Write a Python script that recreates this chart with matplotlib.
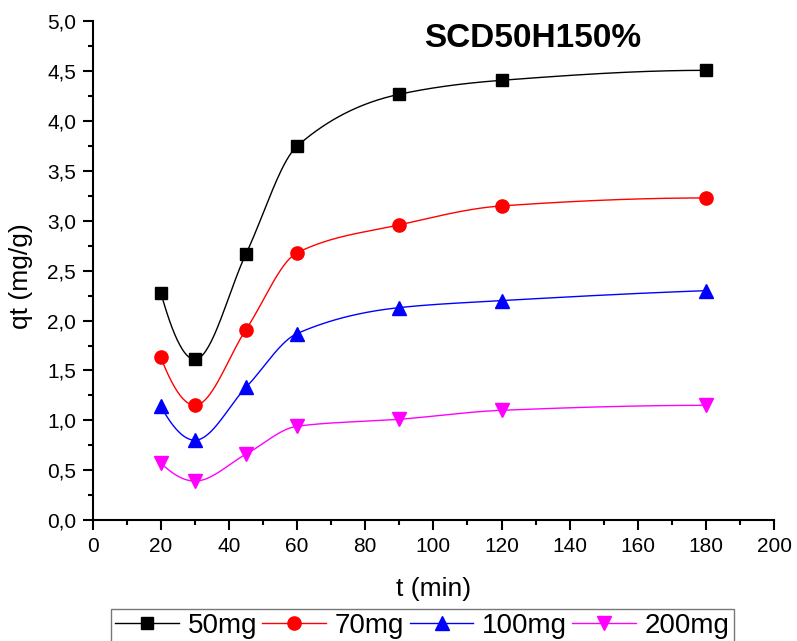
import numpy as np
import matplotlib
matplotlib.use("Agg")
from matplotlib import pyplot as plt
from matplotlib.ticker import MultipleLocator, FuncFormatter

plt.rcParams['font.family'] = ['Liberation Sans', 'DejaVu Sans']

# data
t_min = [20, 30, 45, 60, 90, 120, 180]
qt_50mg = [2.28, 1.61, 2.67, 3.75, 4.27, 4.41, 4.51]
qt_70mg = [1.63, 1.15, 1.91, 2.68, 2.96, 3.15, 3.23]
qt_100mg = [1.14, 0.80, 1.33, 1.87, 2.13, 2.20, 2.30]
qt_200mg = [0.57, 0.39, 0.66, 0.94, 1.01, 1.10, 1.15]
labels = ['50mg', '70mg', '100mg', '200mg']
title = 'SCD50H150%'


def pchip(x, y, n=400):
    # monotone cubic (Fritsch-Carlson) - no overshoot between points
    x = np.asarray(x, float)
    y = np.asarray(y, float)
    h = np.diff(x)
    d = np.diff(y) / h
    k = len(x)
    m = np.zeros(k)
    for i in range(1, k - 1):
        if d[i - 1] * d[i] > 0:
            w1 = 2 * h[i] + h[i - 1]
            w2 = h[i] + 2 * h[i - 1]
            m[i] = (w1 + w2) / (w1 / d[i - 1] + w2 / d[i])
    # end slopes
    m[0] = ((2 * h[0] + h[1]) * d[0] - h[0] * d[1]) / (h[0] + h[1])
    if np.sign(m[0]) != np.sign(d[0]):
        m[0] = 0
    elif np.sign(d[0]) != np.sign(d[1]) and abs(m[0]) > abs(3 * d[0]):
        m[0] = 3 * d[0]
    m[-1] = ((2 * h[-1] + h[-2]) * d[-1] - h[-1] * d[-2]) / (h[-1] + h[-2])
    if np.sign(m[-1]) != np.sign(d[-1]):
        m[-1] = 0
    elif np.sign(d[-1]) != np.sign(d[-2]) and abs(m[-1]) > abs(3 * d[-1]):
        m[-1] = 3 * d[-1]
    xs = np.linspace(x[0], x[-1], n)
    idx = np.clip(np.searchsorted(x, xs) - 1, 0, k - 2)
    hh = h[idx]
    s = (xs - x[idx]) / hh
    h00 = 2 * s**3 - 3 * s**2 + 1
    h10 = s**3 - 2 * s**2 + s
    h01 = -2 * s**3 + 3 * s**2
    h11 = s**3 - s**2
    ys = h00 * y[idx] + h10 * hh * m[idx] + h01 * y[idx + 1] + h11 * hh * m[idx + 1]
    return xs, ys


fig = plt.figure(figsize=(7.97, 6.41), dpi=100)
ax = fig.add_axes([0.1163, 0.1888, 0.855, 0.7777])

series = [qt_50mg, qt_70mg, qt_100mg, qt_200mg]
colors = ['black', '#FF0000', '#0000FF', '#FF00FF']
markers = ['s', 'o', '^', 'v']
sizes = [8.5, 9.5, 10, 10]

for qt, lab, c, mk, ms in zip(series, labels, colors, markers, sizes):
    xs, ys = pchip(t_min, qt)
    ax.plot(xs, ys, color=c, lw=1.0)
    ax.plot(t_min, qt, ls='none', marker=mk, ms=ms, color=c, mec=c)
    # legend proxy
    ax.plot([], [], color=c, lw=1.0, marker=mk, ms=ms, label=lab)

ax.set_xlim(0, 200)
ax.set_ylim(0, 5)
ax.xaxis.set_major_locator(MultipleLocator(20))
ax.xaxis.set_minor_locator(MultipleLocator(10))
ax.yaxis.set_major_locator(MultipleLocator(0.5))
ax.yaxis.set_minor_locator(MultipleLocator(0.25))
ax.yaxis.set_major_formatter(FuncFormatter(lambda v, p: ('%.1f' % v).replace('.', ',')))

for side in ['top', 'right']:
    ax.spines[side].set_visible(False)
for side in ['left', 'bottom']:
    ax.spines[side].set_linewidth(1.5)

ax.tick_params(which='major', direction='out', length=7, width=1.5, labelsize=15, pad=5)
ax.tick_params(which='minor', direction='out', length=3.5, width=1.5)

ax.set_xlabel('t (min)', fontsize=19)
ax.set_ylabel('qt (mg/g)', fontsize=19)
ax.xaxis.set_label_coords(0.5, -0.114)
ax.yaxis.set_label_coords(-0.088, 0.49)

ax.text(0.646, 0.949, title, transform=ax.transAxes, ha='center', va='baseline',
        fontsize=24, fontweight='bold')

leg = fig.legend(loc='upper left', bbox_to_anchor=(111 / 797, 1 - 609 / 641),
                 ncol=4, fontsize=20, frameon=True, fancybox=False,
                 edgecolor='#555555', borderaxespad=0, borderpad=0.15,
                 handlelength=2.3, handletextpad=0.3, columnspacing=0.2)
leg.get_frame().set_linewidth(1.0)

fig.savefig('out.png', dpi=100)
